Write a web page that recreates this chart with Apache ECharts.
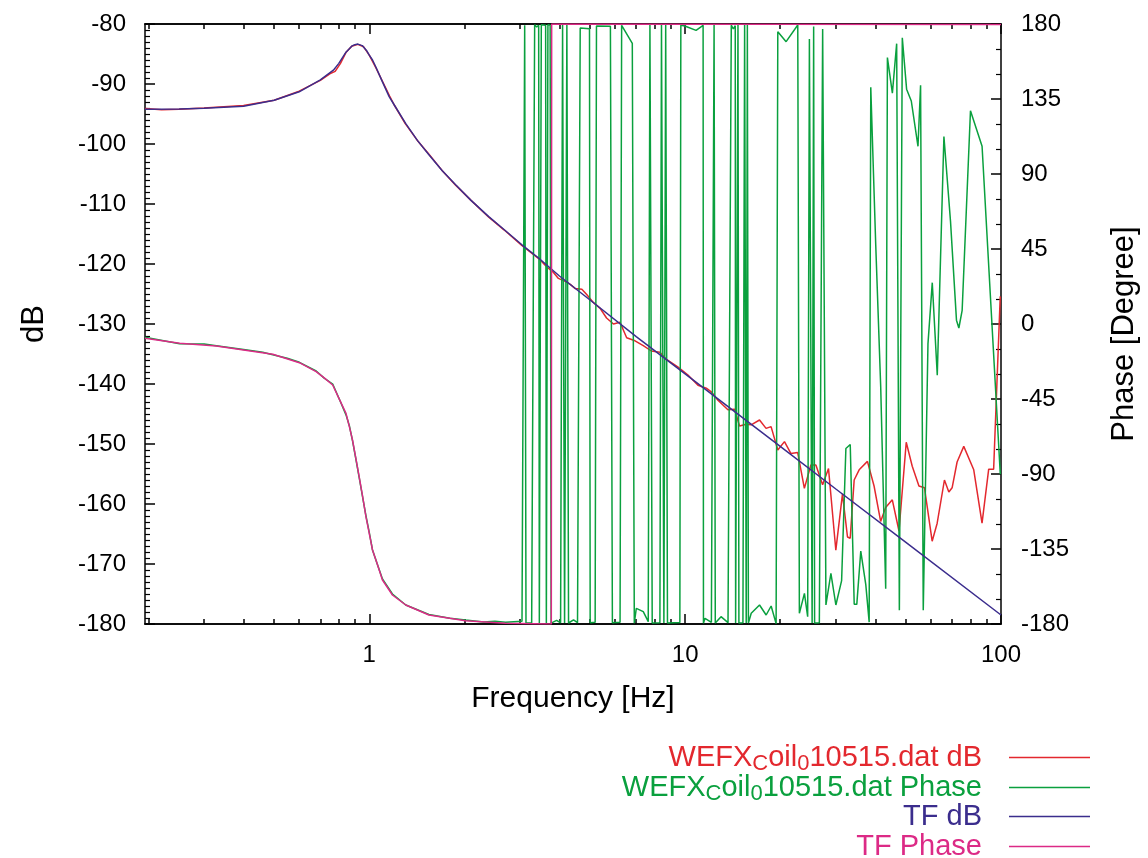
<!DOCTYPE html>
<html>
<head>
<meta charset="utf-8">
<script src="https://cdn.jsdelivr.net/npm/echarts@6/dist/echarts.min.js"></script>
<style>html,body{margin:0;padding:0;background:#fff}#chart{width:1148px;height:858px}</style>
</head>
<body>
<div id="chart"></div>
<script>
// ---------- data ----------
const measDbFreq = [0.195,0.22,0.25,0.3,0.4,0.5,0.6,0.7,0.75,0.78,0.81,0.845,0.88,0.92,0.96,1.0,1.05,1.1,1.16,1.2,1.3,1.42,1.55,1.7,1.88,2.1,2.39,2.67,3.04,3.44,3.65,3.83,3.97,4.17,4.33,4.49,4.71,4.88,5.12,5.38,5.64,5.93,6.22,6.53,6.94,7.37,7.82,8.32,8.73,9.50,10.21,10.98,11.67,12.10,12.70,13.66,14.34,14.87,15.60,16.18,17.20,18.04,18.71,19.65,20.63,21.63,22.71,23.85,25.01,25.94,27.24,28.44,30.00,31.49,32.66,33.31,34.29,35.56,37.77,39.64,41.59,43.13,45.28,47.54,50.12,52.36,54.98,57.25,60.54,62.80,66.21,68.37,70.02,72.61,76.23,81.98,87.09,91.42,94.78,99.45];
const measDbVal = [-94.1,-94.3,-94.2,-94.0,-93.6,-92.7,-91.2,-89.4,-88.3,-87.9,-86.6,-84.7,-83.7,-83.4,-83.8,-85.2,-87.3,-89.5,-92.0,-93.5,-96.6,-99.4,-101.8,-104.4,-106.9,-109.4,-112.2,-114.3,-116.9,-119.1,-120.5,-121.4,-122.4,-122.9,-123.4,-124.1,-124.2,-125.1,-126.4,-127.4,-129.0,-130.0,-129.7,-132.3,-132.8,-133.6,-134.5,-134.7,-135.9,-137.2,-138.5,-140.2,-140.7,-141.3,-142.7,-144.3,-144.2,-147.0,-146.7,-146.8,-146.0,-147.4,-147.1,-151.0,-149.6,-151.6,-151.4,-157.4,-153.5,-153.5,-156.8,-154.1,-167.7,-158.3,-165.5,-165.7,-156.0,-154.3,-152.9,-157.0,-162.9,-160.6,-159.3,-164.5,-149.7,-153.7,-157.0,-157.3,-166.2,-163.2,-156.0,-158.0,-157.3,-153.0,-150.4,-154.3,-163.2,-154.2,-154.2,-125.4];

const measPhFreq = [0.195,0.251,0.3,0.328,0.4,0.46,0.495,0.55,0.601,0.679,0.72,0.766,0.81,0.844,0.865,0.885,0.907,0.929,0.953,0.976,1.0,1.024,1.06,1.101,1.184,1.305,1.545,1.8,2.017,2.3,2.5,2.7,3.045,
 3.105,3.135,3.267,3.339,3.388,3.438,3.455,3.488,3.505,3.617,3.636,3.678,3.738,3.765,3.919,4.034,4.093,4.153,4.223,4.275,4.433,4.564,4.654,4.980,5.005,5.190,5.240,5.800,5.885,6.223,6.295,6.804,6.904,7.005,7.370,7.643,7.737,7.868,8.320,8.417,8.566,8.679,8.793,9.623,9.692,9.979,10.83,11.40,11.43,11.56,12.11,12.35,12.46,12.99,13.67,14.00,14.21,14.41,14.45,14.70,14.80,15.24,15.43,15.61,15.74,15.86,16.19,17.20,18.05,18.72,19.41,19.65,20.88,22.73,23.00,23.86,24.43,24.74,25.02,25.24,25.52,25.70,26.60,27.25,27.91,28.94,30.01,31.29,32.28,33.32,34.30,34.95,35.98,37.32,38.25,38.70,40.13,41.61,43.15,43.69,45.30,46.74,47.67,48.70,50.25,52.00,54.60,55.64,56.74,58.72,60.59,62.84,65.96,69.21,72.28,73.55,75.34,80.05,87.11,99.49];
const measPhVal = [-8.0,-11.8,-12.0,-13.0,-15.3,-17.0,-18.5,-20.5,-23.0,-28.2,-32.5,-36.0,-46.5,-54.5,-61.0,-70.0,-81.0,-92.0,-104.0,-115.0,-125.0,-135.6,-144.0,-153.0,-162.0,-168.6,-174.3,-176.5,-177.6,-178.8,-178.3,-178.9,-178.4,
 179.3,-179.4,-179.3,179.5,178.2,179.2,-179.5,-179.3,179.5,179.3,-179.4,179.5,179.2,-179.5,-177.8,-179.3,179.4,-179.4,179.4,-179.4,-177.5,-179.2,177.6,177.2,-179.3,-179.0,178.8,178.6,-179.2,-179.0,179.2,168.4,-179.5,-170.6,-172.6,-178.6,179.4,-179.4,-179.2,179.4,-179.4,179.4,-179.4,-179.1,179.2,178.8,176.2,179.2,-179.5,-176.6,-179.0,179.4,-179.4,-175.6,-179.2,179.3,177.0,179.0,-179.4,179.4,-179.4,-179.2,179.4,-179.4,179.4,-179.4,-173.6,-168.6,-174.6,-169.2,-179.8,175.4,169.4,179.4,-173.6,-161.6,-175.6,171.0,170.0,-179.4,178.5,-179.4,-179.2,177.0,-168.6,-149.6,-168.6,-154.0,-74.7,-72.3,-168.2,-168.2,-136.3,-156.4,-178.9,142.1,47.3,-38.0,-158.8,159.9,138.5,168.2,-171.8,171.7,140.9,133.8,106.6,143.3,-171.8,-11.9,24.8,-30.8,112.5,61.6,2.3,-2.4,8.2,127.9,106.6,-90.1];

const tfDbFreq = [0.195,0.25,0.3,0.4,0.5,0.6,0.7,0.77,0.8,0.844,0.88,0.9,0.92,0.95,0.98,1.0,1.024,1.05,1.1,1.156,1.2,1.305,1.42,1.545,1.7,1.877,2.1,2.389,2.665,3.043,3.436,4.0,5.0,7.0,10,20,30,50,100];
const tfDbVal = [-94.2,-94.15,-94.05,-93.7,-92.7,-91.3,-89.3,-87.7,-86.6,-84.7,-83.7,-83.45,-83.35,-83.6,-84.4,-85.2,-86.0,-87.2,-89.6,-92.1,-93.5,-96.6,-99.4,-101.8,-104.4,-106.8,-109.4,-112.1,-114.2,-116.8,-119.0,-122.0,-126.0,-132.1,-138.3,-150.4,-157.5,-166.4,-178.5];

const tfPhFreq = [0.195,0.251,0.328,0.4,0.495,0.601,0.679,0.72,0.766,0.81,0.844,0.865,0.885,0.907,0.929,0.953,0.976,1.0,1.024,1.06,1.101,1.184,1.305,1.545,2.017,2.698,3.3,3.77,3.78,100];
const tfPhVal = [-8.6,-11.6,-13.2,-15.6,-18.2,-23.2,-28.6,-32.3,-36.6,-46.4,-53.6,-61.6,-69.6,-80.6,-91.6,-103.6,-115.6,-125.6,-135.6,-144.0,-153.6,-162.6,-168.6,-174.6,-178.0,-179.6,-179.8,-179.95,179.95,179.7];

const xMajorTicks = [1, 10, 100];
const xMinorTicks = [0.2,0.3,0.4,0.5,0.6,0.7,0.8,0.9,2,3,4,5,6,7,8,9,20,30,40,50,60,70,80,90];
const seriesNames = ['WEFX_Coil_0_10515.dat dB','WEFX_Coil_0_10515.dat Phase','TF dB','TF Phase'];
const legendLabels = [
  '{n|WEFX}{s|C}{n|oil}{s|0}{n|10515.dat dB}',
  '{n|WEFX}{s|C}{n|oil}{s|0}{n|10515.dat Phase}',
  '{n|TF dB}',
  '{n|TF Phase}'
];
const colors = ['#e3282e', '#0aa03e', '#3b2d8d', '#dc2a86'];

// ---------- chart ----------
const FONT = '"Liberation Sans", Arial, Helvetica, sans-serif';
const TICK_FS = 24, NAME_FS = 30, YNAME_FS = 31, LEG_FS = 29;
const zip = (a, b) => a.map((v, i) => [v, b[i]]);
const X_MIN = 0.195, X_MAX = 100;

function xAxis(position, ticks, len, withLabels) {
  return {
    type: 'log', logBase: 10, position: position, min: X_MIN, max: X_MAX,
    gridIndex: 0,
    axisLine: { show: true, onZero: false, lineStyle: { color: '#000', width: 1.5 } },
    axisTick: { show: true, inside: true, length: len, customValues: ticks, lineStyle: { color: '#000', width: 1.5 } },
    axisLabel: withLabels ? { show: true, customValues: xMajorTicks, margin: 19, color: '#000', fontSize: TICK_FS, fontFamily: FONT, formatter: v => String(v) } : { show: false },
    splitLine: { show: false }, minorTick: { show: false }, minorSplitLine: { show: false },
    name: withLabels ? 'Frequency [Hz]' : '', nameLocation: 'middle', nameGap: 60,
    nameTextStyle: { color: '#000', fontSize: NAME_FS, fontFamily: FONT }
  };
}

const chart = echarts.init(document.getElementById('chart'), null, { renderer: 'canvas' });
const legendCenters = [760, 790, 819, 849];

chart.setOption({
  animation: false,
  backgroundColor: '#fff',
  grid: { left: 145, top: 24, width: 859, height: 600, containLabel: false },
  xAxis: [
    xAxis('bottom', xMajorTicks, 10, true),
    xAxis('bottom', xMinorTicks, 5, false),
    xAxis('top', xMajorTicks, 10, false),
    xAxis('top', xMinorTicks, 5, false)
  ],
  yAxis: [
    {
      type: 'value', position: 'left', min: -180, max: -80, interval: 10,
      axisLine: { show: true, lineStyle: { color: '#000', width: 1.5 } },
      axisTick: { show: true, inside: true, length: 10, lineStyle: { color: '#000', width: 1.5 } },
      minorTick: { show: true, splitNumber: 10, length: 5, lineStyle: { color: '#000', width: 1.2 } },
      axisLabel: { color: '#000', fontSize: TICK_FS, fontFamily: FONT, margin: 19 },
      splitLine: { show: false },
      name: 'dB', nameLocation: 'middle', nameGap: 95, nameRotate: 90,
      nameTextStyle: { color: '#000', fontSize: YNAME_FS, fontFamily: FONT }
    },
    {
      type: 'value', position: 'right', min: -180, max: 180, interval: 45,
      axisLine: { show: true, lineStyle: { color: '#000', width: 1.5 } },
      axisTick: { show: true, inside: true, length: 10, lineStyle: { color: '#000', width: 1.5 } },
      minorTick: { show: true, splitNumber: 3, length: 5, lineStyle: { color: '#000', width: 1.2 } },
      axisLabel: { color: '#000', fontSize: TICK_FS, fontFamily: FONT, margin: 20 },
      splitLine: { show: false },
      name: 'Phase [Degree]', nameLocation: 'middle', nameGap: 108, nameRotate: 90,
      nameTextStyle: { color: '#000', fontSize: YNAME_FS, fontFamily: FONT, padding: [0, 20, 0, 0] }
    }
  ],
  legend: seriesNames.map((n, i) => ({
    data: [n], right: 58, top: legendCenters[i] - 17, orient: 'vertical', align: 'right',
    icon: 'rect', itemWidth: 81, itemHeight: 1.5, selectedMode: false, padding: 0,
    formatter: () => legendLabels[i],
    textStyle: {
      color: colors[i], fontFamily: FONT, fontSize: LEG_FS, padding: [0, 22, 0, 0],
      rich: {
        n: { color: colors[i], fontFamily: FONT, fontSize: LEG_FS, lineHeight: 34 },
        s: { color: colors[i], fontFamily: FONT, fontSize: 22, lineHeight: 22, verticalAlign: 'bottom' }
      }
    }
  })),
  series: [
    { name: seriesNames[0], type: 'line', xAxisIndex: 0, yAxisIndex: 0, data: zip(measDbFreq, measDbVal), showSymbol: false, symbol: 'none', lineStyle: { color: colors[0], width: 1.5 }, itemStyle: { color: colors[0] } },
    { name: seriesNames[1], type: 'line', xAxisIndex: 0, yAxisIndex: 1, data: zip(measPhFreq, measPhVal), showSymbol: false, symbol: 'none', lineStyle: { color: colors[1], width: 1.5 }, itemStyle: { color: colors[1] } },
    { name: seriesNames[2], type: 'line', xAxisIndex: 0, yAxisIndex: 0, data: zip(tfDbFreq, tfDbVal), showSymbol: false, symbol: 'none', lineStyle: { color: colors[2], width: 1.5 }, itemStyle: { color: colors[2] } },
    { name: seriesNames[3], type: 'line', xAxisIndex: 0, yAxisIndex: 1, data: zip(tfPhFreq, tfPhVal), showSymbol: false, symbol: 'none', lineStyle: { color: colors[3], width: 1.5 }, itemStyle: { color: colors[3] } }
  ]
});
</script>
</body>
</html>
